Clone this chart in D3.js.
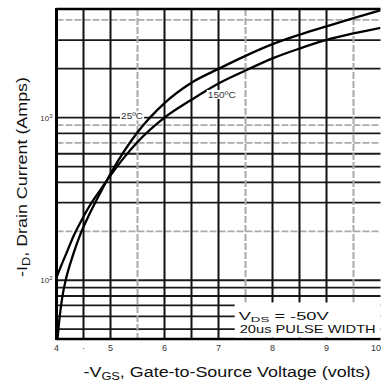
<!DOCTYPE html>
<html><head><meta charset="utf-8">
<script src="https://cdn.jsdelivr.net/npm/d3@7"></script>
<style>html,body{margin:0;padding:0;background:#fff;}svg{display:block;}</style>
</head><body>
<svg id="c" width="381" height="383"></svg>
<script>
// ---- data ----
const vgs25 = [4.02,4.05,4.1,4.17,4.3,4.45,4.6,4.8,5.0,5.5,6.0,6.5,7.0,7.5,8.0,8.5,9.0,9.5,10];
const id25  = [44,56,76,100,141,195,251,339,452,813,1230,1641,1995,2399,2831,3236,3648,4093,4571];
const vgs150 = [4.0,4.1,4.2,4.3,4.45,4.6,4.8,5.0,5.5,6.0,6.5,7.0,7.5,8.0,8.5,9.0,9.5,10];
const id150  = [104,126,151,182,229,282,355,442,708,1000,1288,1622,1950,2317,2661,3006,3296,3573];
const xTickValues = [4,4.5,5,6,7,8,9,10];
const xTickLabels = ["4","·","5","6","7","8","9","10"];
const yTickValues = [100,1000];
const yTickExp = ["2","3"];
const vGridMajor = [4.5,5,6,6.5,7,8,8.5,9];
const vGridMinor = [5.5,7.5,9.5];
const hGridMajor = [50,60,70,80,90,100,300,400,500,600,800,1000,2000,3000];
const hGridMinor = [200,700,900,4000];
const curveLabels = ["25ºC","150ºC"];
const legendLines = ["V","DS"," = -50V","20us PULSE WIDTH"];

// ---- scales ----
const L=56.5, R=380.5, T=9, B=339;
const xs = d3.scaleLinear().domain([4,10]).range([L,R]);
const ys = d3.scaleLog().domain([43.5,4660]).range([B,T]);
const svg = d3.select("#c");

svg.append("defs").append("clipPath").attr("id","clip")
  .append("rect").attr("x",L).attr("y",T).attr("width",R-L).attr("height",B-T);

const vAll = vGridMinor.map(v=>({v, major:false})).concat(vGridMajor.map(v=>({v, major:true})));
const hAll = hGridMinor.map(v=>({v, major:false})).concat(hGridMajor.map(v=>({v, major:true})));

const grid = svg.append("g");
grid.selectAll("path.h").data(hAll).join("path").attr("class","h")
  .attr("d",d=>`M${L},${ys(d.v)}H${R}`)
  .attr("fill","none").attr("stroke",d=>d.major?"#1a1a1a":"#aaa").attr("stroke-width",1.8)
  .attr("stroke-dasharray",d=>d.major?null:"7,2");
grid.selectAll("path.v").data(vAll).join("path").attr("class","v")
  .attr("d",d=>`M${xs(d.v)},${T}V${B}`)
  .attr("fill","none").attr("stroke",d=>d.major?"#111":"#aaa").attr("stroke-width",2)
  .attr("stroke-dasharray",d=>d.major?null:"7,2");

// borders
const gb = svg.append("g");
gb.append("rect").attr("x",L-1.5).attr("y",T-1).attr("width",3).attr("height",B-T+2).attr("fill","#000");
gb.append("path").attr("d",`M${L},${T}H${R}`).attr("stroke","#000").attr("stroke-width",2.5);
gb.append("path").attr("d",`M${L},${B}H${R}`).attr("stroke","#000").attr("stroke-width",2.5);

// legend box
const lgX = xs(7.3);
svg.append("rect").attr("x",lgX).attr("y",ys(73)).attr("width",R-lgX).attr("height",B-1.5-ys(73)).attr("fill","#fff");
const lt = svg.append("text").attr("x",lgX+4).attr("y",ys(57)).attr("font-family","Liberation Sans, Arial, sans-serif")
  .attr("font-size",11).attr("fill","#111").attr("textLength",90).attr("lengthAdjust","spacingAndGlyphs");
lt.append("tspan").text(legendLines[0]);
lt.append("tspan").attr("font-size",8).attr("dy",2).text(legendLines[1]);
lt.append("tspan").attr("dy",-2).text(legendLines[2]);
svg.append("text").attr("x",lgX+5).attr("y",ys(47.5)).attr("font-family","Liberation Sans, Arial, sans-serif")
  .attr("font-size",11).attr("fill","#111").attr("textLength",136).attr("lengthAdjust","spacingAndGlyphs")
  .text(legendLines[3]);

// curves
const lineGen = d3.line().x(d=>xs(d[0])).y(d=>ys(d[1])).curve(d3.curveMonotoneX);
const cg = svg.append("g").attr("clip-path","url(#clip)");
cg.append("path").datum(vgs25.map((v,i)=>[v,id25[i]])).attr("d",lineGen)
  .attr("fill","none").attr("stroke","#000").attr("stroke-width",2.3);
cg.append("path").datum(vgs150.map((v,i)=>[v,id150[i]])).attr("d",lineGen)
  .attr("fill","none").attr("stroke","#000").attr("stroke-width",2.3);

// curve labels
function lab(t,cx,cy,w){
  svg.append("rect").attr("x",cx-w/2-1).attr("y",cy-5).attr("width",w+2).attr("height",9).attr("fill","#fff");
  svg.append("text").attr("x",cx).attr("y",cy+3).attr("text-anchor","middle")
    .attr("font-family","Liberation Sans, Arial, sans-serif").attr("font-size",9).attr("fill","#333")
    .attr("textLength",w).attr("lengthAdjust","spacingAndGlyphs").text(t);
}
lab(curveLabels[0], xs(5.4), ys(1020), 22);
lab(curveLabels[1], xs(7.06), ys(1380), 28);

// x ticks
svg.selectAll("text.xt").data(xTickValues).join("text").attr("class","xt")
  .attr("x",d=>d===10?381:xs(d)).attr("y",351).attr("text-anchor",d=>d===10?"end":"middle")
  .attr("font-family","Liberation Sans, Arial, sans-serif").attr("font-size",9).attr("fill","#333")
  .text((d,i)=>xTickLabels[i]);
// y ticks
const yt = svg.selectAll("text.yt").data(yTickValues).join("text").attr("class","yt")
  .attr("x",L-4).attr("y",d=>ys(d)+3).attr("text-anchor","end")
  .attr("font-family","Liberation Sans, Arial, sans-serif").attr("font-size",8).attr("fill","#333");
yt.append("tspan").text("10");
yt.append("tspan").attr("font-size",6).attr("dy",-3).text((d,i)=>yTickExp[i]);

// axis titles
const xt = svg.append("text").attr("x",227).attr("y",377).attr("text-anchor","middle")
  .attr("font-family","Liberation Sans, Arial, sans-serif").attr("font-size",14).attr("fill","#111")
  .attr("textLength",287).attr("lengthAdjust","spacingAndGlyphs");
xt.append("tspan").text("-V");
xt.append("tspan").attr("font-size",10).attr("dy",3).text("GS");
xt.append("tspan").attr("dy",-3).text(", Gate-to-Source Voltage (volts)");

const ytt = svg.append("text").attr("transform","translate(27,177) rotate(-90)").attr("text-anchor","middle")
  .attr("font-family","Liberation Sans, Arial, sans-serif").attr("font-size",14).attr("fill","#111")
  .attr("textLength",200).attr("lengthAdjust","spacingAndGlyphs");
ytt.append("tspan").text("-I");
ytt.append("tspan").attr("font-size",10).attr("dy",3).text("D");
ytt.append("tspan").attr("dy",-3).text(", Drain Current (Amps)");
</script>
</body></html>
